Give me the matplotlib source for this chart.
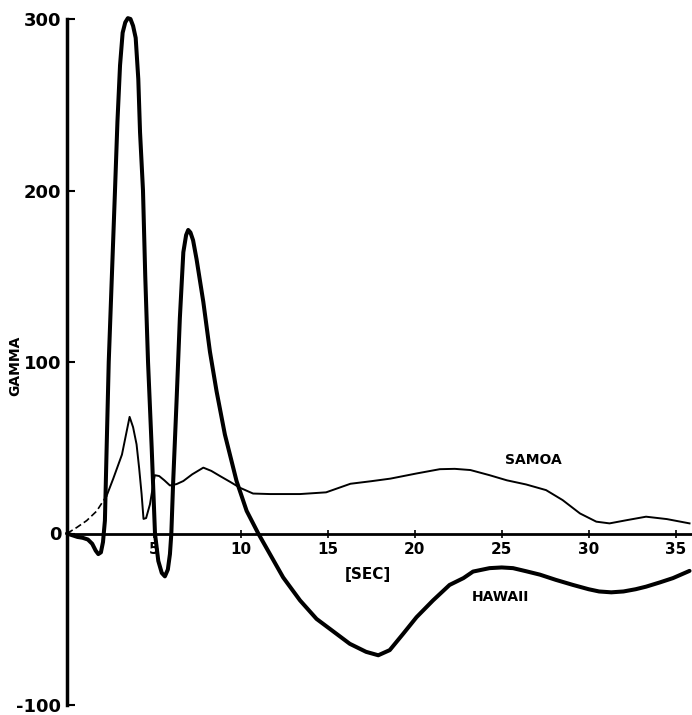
import matplotlib
matplotlib.use("Agg")
import matplotlib.pyplot as plt

# ---- data ----
hawaii_x = [0, 0.3, 0.6, 0.9, 1.2, 1.45, 1.65, 1.8, 1.95, 2.07, 2.18, 2.28, 2.4, 2.58,
            2.76, 2.9, 3.05, 3.2, 3.35, 3.5, 3.65, 3.8, 3.95, 4.1, 4.2, 4.37, 4.5, 4.66,
            4.87, 5.06, 5.25, 5.45, 5.63, 5.8, 5.92, 6.0, 6.1, 6.3, 6.49, 6.69, 6.85,
            6.97, 7.1, 7.25, 7.45, 7.84, 8.22, 8.6, 9.08, 9.75, 10.33, 11.0, 11.67, 12.43,
            13.4, 14.35, 15.3, 16.26, 17.2, 17.9, 18.56, 19.33, 20.1, 21.05, 22.0, 22.8,
            23.35, 24.3, 25.0, 25.65, 26.4, 27.2, 28.1, 29.1, 30.0, 30.6, 31.3, 32.0,
            32.7, 33.3, 34.1, 34.85, 35.8]
hawaii_y = [0, -1, -2, -2.5, -3.5, -6, -10, -12, -11, -5, 7.5, 50, 100, 150,
            200, 240, 273, 292, 298, 300.5, 300, 296, 289, 265, 234, 200, 150, 100,
            50, 0, -16, -23, -25, -21, -12, 0, 28.7, 77, 125.6, 164, 174,
            177, 175.5, 171, 160, 135, 106, 83, 57.7, 30.6, 13.2, 0, -12, -25.6,
            -39, -49.8, -57, -64.3, -69, -71, -68, -58.5, -48.8, -39, -30, -26,
            -22.2, -20.2, -19.8, -20.2, -22, -24, -27, -30, -32.5, -33.8, -34.3, -33.8,
            -32.5, -31, -28.5, -26, -21.8]

samoa_x = [0, 0.56, 1.13, 1.7, 2.28, 2.66, 3.16, 3.4, 3.6, 3.8, 4.0, 4.15, 4.29, 4.4,
           4.55, 4.77, 4.95, 5.05, 5.3, 5.6, 5.92, 6.3, 6.69, 7.2, 7.84, 8.3, 8.8, 9.4,
           9.94, 10.7, 11.67, 12.8, 13.4, 14.9, 16.3, 17.5, 18.6, 20.1, 21.44, 22.3,
           23.2, 24.3, 25.3, 26.4, 27.55, 28.5, 29.5, 30.44, 31.2, 32.2, 33.3, 34.5, 35.8]
samoa_y = [0, 3.5, 7.5, 13, 22, 32, 46, 58, 68, 62, 52, 38, 23, 8.5,
           9, 17, 28, 34, 33.5, 31, 28, 28.8, 30.6, 34.5, 38.4, 36.5, 33.5, 30,
           26.7, 23.3, 23, 23, 23, 24, 29, 30.5, 32, 35, 37.5, 37.7,
           37, 34, 31, 28.6, 25.3, 19.5, 11.7, 6.9, 5.9, 7.8, 9.8, 8.4, 5.9]
samoa_dashed_until = 2.28

x_ticks = [5, 10, 15, 20, 25, 30, 35]
y_ticks = [-100, 0, 100, 200, 300]

# ---- figure ----
fig = plt.figure(figsize=(6.92, 7.15), dpi=100)
ax = fig.add_axes([67 / 692, 10 / 715, 626 / 692, 686 / 715])
ax.set_xlim(0, 36)
ax.set_ylim(-100, 300)

ax.plot(hawaii_x, hawaii_y, color="black", lw=2.9, solid_capstyle="round",
        solid_joinstyle="round", clip_on=False, zorder=3)

dash_x = [x for x in samoa_x if x <= samoa_dashed_until]
dash_y = samoa_y[:len(dash_x)]
solid_x = samoa_x[len(dash_x) - 1:]
solid_y = samoa_y[len(dash_x) - 1:]
ax.plot(dash_x, dash_y, color="black", lw=1.2, ls=(0, (4, 2)), zorder=3)
ax.plot(solid_x, solid_y, color="black", lw=1.4, solid_joinstyle="round",
        clip_on=False, zorder=3)

for s in ["top", "right"]:
    ax.spines[s].set_visible(False)
ax.spines["left"].set_linewidth(2.5)
ax.spines["bottom"].set_position(("data", 0))
ax.spines["bottom"].set_linewidth(2.0)

ax.set_xticks(x_ticks)
ax.set_xticklabels([str(v) for v in x_ticks])
ax.set_yticks(y_ticks)
ax.set_yticklabels([str(v) for v in y_ticks])
ax.tick_params(axis="y", direction="in", length=6, width=1.5, pad=4,
               labelsize=13)
ax.tick_params(axis="x", direction="inout", length=6, width=1.2, pad=3,
               labelsize=11)
for lab in ax.get_xticklabels() + ax.get_yticklabels():
    lab.set_fontweight("bold")

ax.text(26.8, 43, "SAMOA", fontsize=10, fontweight="bold", ha="center", va="center")
ax.text(24.9, -37, "HAWAII", fontsize=10, fontweight="bold", ha="center", va="center")
ax.text(17.3, -24, "[SEC]", fontsize=11, fontweight="bold", ha="center", va="center")
ax.text(-3.0, 98, "GAMMA", fontsize=10, fontweight="bold", ha="center", va="center",
        rotation=90, clip_on=False)

fig.savefig("out.png", dpi=100)
